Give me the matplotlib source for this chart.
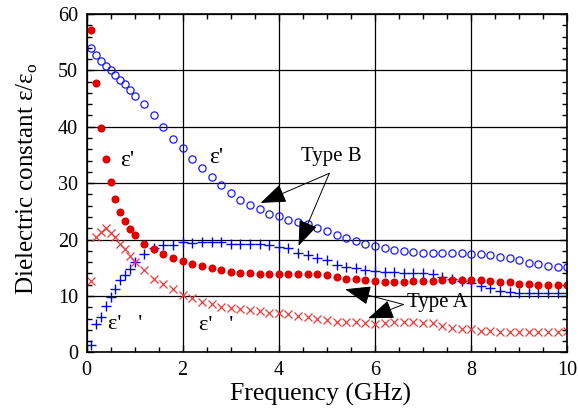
import matplotlib
matplotlib.use('Agg')
import matplotlib.pyplot as plt
from matplotlib.ticker import MultipleLocator

plt.rcParams['font.family'] = ['Liberation Serif', 'DejaVu Serif']
plt.rcParams['mathtext.fontset'] = 'custom'
plt.rcParams['mathtext.rm'] = 'Liberation Serif'

# frequency grid (GHz)
freq = [0.1, 0.2, 0.3, 0.4, 0.5, 0.6, 0.7, 0.8, 0.9, 1.0,
        1.2, 1.4, 1.6, 1.8, 2.0, 2.2, 2.4, 2.6, 2.8, 3.0,
        3.2, 3.4, 3.6, 3.8, 4.0, 4.2, 4.4, 4.6, 4.8, 5.0,
        5.2, 5.4, 5.6, 5.8, 6.0, 6.2, 6.4, 6.6, 6.8, 7.0,
        7.2, 7.4, 7.6, 7.8, 8.0, 8.2, 8.4, 8.6, 8.8, 9.0,
        9.2, 9.4, 9.6, 9.8, 10.0]

# Type B, real part (open circles)
typeB_real = [54.0, 52.7, 51.6, 50.7, 50.1, 49.1, 48.3, 47.6, 46.5, 45.5,
              44.0, 42.0, 40.0, 37.9, 36.2, 34.3, 32.7, 31.1, 29.7, 28.3,
              27.0, 26.1, 25.4, 24.6, 24.1, 23.5, 23.1, 22.7, 22.1, 21.6,
              20.9, 20.3, 19.8, 19.3, 18.8, 18.5, 18.2, 17.9, 17.8, 17.7,
              17.6, 17.6, 17.6, 17.6, 17.5, 17.4, 17.2, 17.0, 16.7, 16.3,
              15.9, 15.6, 15.4, 15.2, 15.1]

# Type B, imaginary part (plus)
typeB_imag = [1.3, 5.0, 6.2, 8.3, 9.8, 11.2, 12.8, 13.8, 14.8, 16.0,
              17.4, 18.5, 19.0, 19.1, 19.5, 19.4, 19.5, 19.5, 19.5, 19.3,
              19.3, 19.3, 19.2, 19.0, 18.6, 18.5, 17.7, 17.2, 16.8, 16.3,
              15.5, 15.1, 14.9, 14.6, 14.4, 14.3, 14.2, 14.1, 14.1, 14.0,
              13.9, 13.4, 13.1, 12.7, 12.3, 11.8, 11.4, 10.9, 10.7, 10.6,
              10.5, 10.5, 10.5, 10.5, 10.6]

# Type A, real part (filled dots)
typeA_real = [57.2, 47.8, 39.8, 34.2, 30.2, 27.2, 24.9, 23.3, 21.9, 20.9,
              19.3, 18.3, 17.4, 16.7, 16.2, 15.7, 15.3, 15.0, 14.6, 14.3,
              14.1, 14.0, 13.9, 13.9, 13.9, 13.9, 13.9, 13.9, 13.9, 13.7,
              13.4, 13.1, 13.0, 12.8, 12.7, 12.5, 12.5, 12.5, 12.7, 12.7,
              12.7, 12.8, 12.9, 12.9, 12.9, 12.9, 12.7, 12.5, 12.4, 12.2,
              12.1, 12.0, 12.0, 12.0, 12.0]

# Type A, imaginary part (crosses)
typeA_imag = [12.7, 20.5, 21.4, 22.0, 21.2, 20.5, 19.3, 18.3, 17.1, 16.1,
              14.6, 13.1, 12.1, 11.2, 10.2, 9.6, 8.9, 8.5, 8.1, 7.8,
              7.7, 7.5, 7.4, 7.0, 7.0, 6.8, 6.5, 6.3, 6.0, 5.7,
              5.4, 5.3, 5.3, 5.2, 5.1, 5.2, 5.3, 5.3, 5.3, 5.2,
              5.2, 4.7, 4.4, 4.2, 4.1, 3.8, 3.8, 3.6, 3.6, 3.6,
              3.6, 3.6, 3.6, 3.7, 3.8]

fig = plt.figure(figsize=(5.78, 4.11), dpi=100)
ax = fig.add_axes([0.1497, 0.1426, 0.8318, 0.8234])

ax.grid(True, which='major', color='black', linewidth=0.9)
ax.set_axisbelow(True)

ax.plot(freq, typeB_real, 'o', mfc='none', mec='#1a1aff', ms=5.2, mew=0.9, ls='none')
ax.plot(freq, typeB_imag, '+', color='#0000ee', ms=7, mew=1.0, ls='none')
ax.plot(freq, typeA_real, 'o', color='#e00000', ms=5.8, mew=0, ls='none')
ax.plot(freq, typeA_imag, 'x', color='#ee3a3a', ms=6, mew=0.9, ls='none')

ax.set_xlim(0, 10)
ax.set_ylim(0, 60)
ax.xaxis.set_major_locator(MultipleLocator(2))
ax.xaxis.set_minor_locator(MultipleLocator(0.5))
ax.yaxis.set_major_locator(MultipleLocator(10))
ax.yaxis.set_minor_locator(MultipleLocator(2))
ax.tick_params(which='both', direction='in', top=True, right=True,
               labelsize=14.5, width=1.0)
ax.tick_params(which='major', length=5, pad=6)
ax.tick_params(which='minor', length=3.5)
for sp in ax.spines.values():
    sp.set_linewidth(1.2)

ax.set_xlabel('Frequency (GHz)', fontsize=18.5, labelpad=2, x=0.4875)
ax.set_ylabel(r'Dielectric constant ε/ε$_{\rm o}$', fontsize=18, labelpad=13, y=0.513)

# curve labels
ax.text(0.84, 34.1, "ε'", fontsize=17, ha='center', va='center')
ax.text(2.69, 34.6, "ε'", fontsize=17, ha='center', va='center')
ax.text(0.45, 4.9, "ε'   '", fontsize=16, ha='left', va='center')
ax.text(2.34, 4.7, "ε'   '", fontsize=16, ha='left', va='center')

arrow = dict(arrowstyle='-|>,head_length=1.6,head_width=0.6', color='black',
             lw=0.7, mutation_scale=10, shrinkA=0, shrinkB=0)
ax.text(4.46, 34.7, 'Type B', fontsize=15, ha='left', va='center')
ax.annotate('', xy=(3.62, 26.5), xytext=(5.05, 31.75), arrowprops=arrow)
ax.annotate('', xy=(4.41, 18.9), xytext=(5.05, 31.75), arrowprops=arrow)

ax.text(6.67, 8.9, 'Type A', fontsize=15, ha='left', va='center')
ax.annotate('', xy=(5.38, 11.2), xytext=(6.59, 8.5), arrowprops=arrow)
ax.annotate('', xy=(5.86, 6.05), xytext=(6.59, 8.5), arrowprops=arrow)

fig.savefig('out.png', dpi=100)
